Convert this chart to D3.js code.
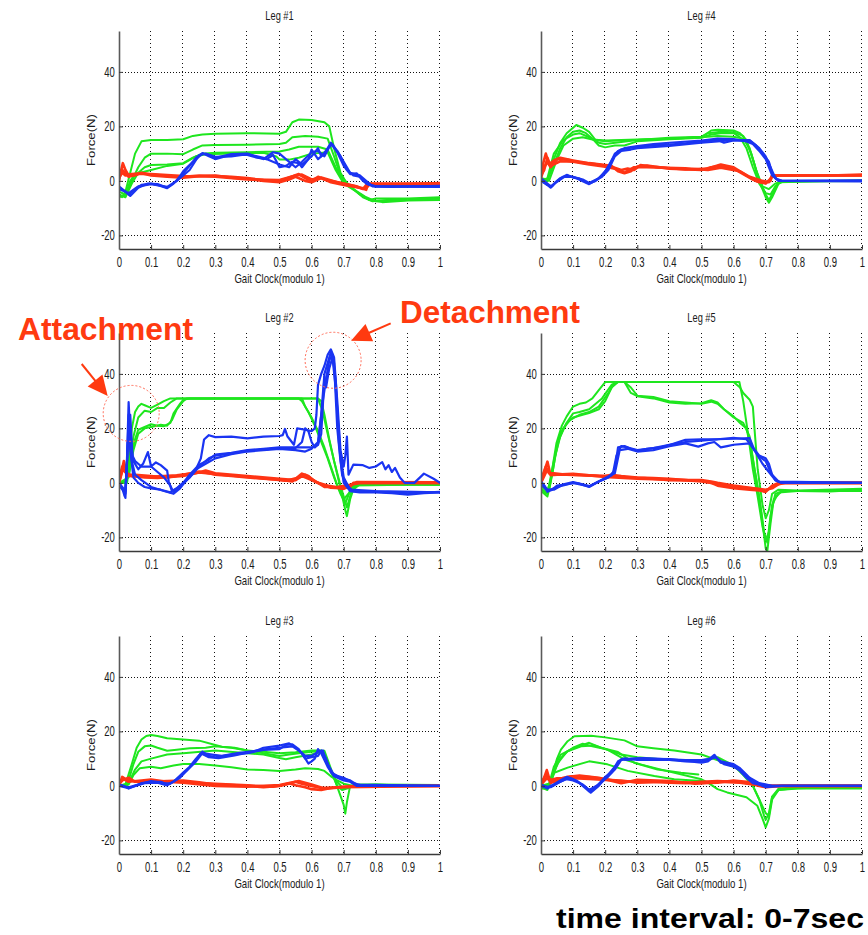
<!DOCTYPE html>
<html>
<head>
<meta charset="utf-8">
<script src="https://cdn.jsdelivr.net/npm/d3@7"></script>
<style>
  body { margin: 0; background: #fff; }
  svg { display: block; }
</style>
</head>
<body>
<script>
// Leg force traces (Gait Clock modulo 1 vs Force N).
// Each leg: several overlaid trials per colour, points are [x, y].

var leg1Green = [
  [[0,-5],[0.01,-6],[0.02,-4],[0.035,3],[0.05,10],[0.07,14.5],[0.1,15],[0.15,15],[0.2,15.3],[0.23,16.5],[0.26,17],[0.3,17.3],[0.4,17.5],[0.5,17.3],[0.52,18],[0.54,21.5],[0.56,22.5],[0.6,22.3],[0.64,21.5],[0.655,20],[0.67,12],[0.69,3],[0.71,-1],[0.75,-5],[0.78,-7],[0.8,-6.5],[0.9,-6.5],[1,-6]],
  [[0,-6],[0.02,-5],[0.04,0],[0.06,5],[0.08,8.5],[0.1,10],[0.15,10],[0.2,9.8],[0.23,11.5],[0.26,13],[0.3,13.2],[0.4,13.3],[0.5,13.5],[0.52,14],[0.54,16],[0.58,16.5],[0.62,16.2],[0.65,15.5],[0.67,9],[0.69,2],[0.72,-2],[0.76,-6],[0.79,-7.5],[0.85,-6.8],[1,-6.5]],
  [[0,-5],[0.02,-6],[0.04,-1],[0.06,3],[0.08,5],[0.1,5.8],[0.15,6],[0.2,6.5],[0.23,8.5],[0.26,10],[0.3,10.3],[0.4,10.5],[0.5,10.8],[0.53,11.5],[0.56,12.5],[0.62,12.5],[0.65,11.5],[0.675,5],[0.7,0],[0.73,-3],[0.77,-6],[0.8,-7.5],[0.9,-7],[1,-6.5]],
  [[0,-4],[0.02,-5],[0.035,0],[0.05,2.5],[0.1,4],[0.15,5.5],[0.2,6.3],[0.24,9],[0.27,9.8],[0.35,10],[0.45,10.3],[0.49,9],[0.5,7.8],[0.53,7.8],[0.56,8.5],[0.6,10],[0.65,10.5],[0.675,4],[0.7,-1],[0.74,-4],[0.78,-7],[0.82,-7.8],[0.9,-7.2],[1,-7]]
];
var leg1Red = [
  [[0,0],[0.005,3],[0.012,6.5],[0.02,4],[0.03,2],[0.05,2],[0.07,3],[0.1,2.3],[0.15,1.8],[0.2,1.5],[0.25,2],[0.3,1.8],[0.35,1.5],[0.4,1],[0.45,0.3],[0.5,0],[0.52,0.8],[0.56,2.5],[0.58,1],[0.6,0],[0.62,1.5],[0.64,0.5],[0.66,0],[0.7,-1],[0.74,-2],[0.77,-3.3],[0.775,-1],[0.8,-1],[0.9,-1.2],[1,-0.8]],
  [[0,1],[0.01,3],[0.02,2],[0.04,2.5],[0.07,2.8],[0.1,2],[0.15,1.5],[0.2,1.2],[0.25,1.7],[0.3,2],[0.35,1.2],[0.4,0.8],[0.45,0],[0.5,-0.5],[0.53,0.5],[0.55,1.5],[0.58,0],[0.6,-0.5],[0.63,1],[0.66,-0.5],[0.7,-1.5],[0.75,-2.5],[0.77,-2.8],[0.78,-1.2],[0.9,-1],[1,-1]],
  [[0,2],[0.01,4],[0.03,1.5],[0.06,2.5],[0.1,2.5],[0.2,1.8],[0.3,1.5],[0.4,0.5],[0.5,0.3],[0.55,2],[0.57,2.3],[0.6,0.5],[0.63,1.2],[0.68,-0.5],[0.73,-1.8],[0.76,-3],[0.77,-1.5],[1,-1.3]]
];
var leg1Blue = [
  [[0,-2],[0.015,-3.5],[0.03,-5],[0.05,-3],[0.07,-1.5],[0.1,-1],[0.12,-1.5],[0.15,-2.7],[0.17,-1],[0.2,2.8],[0.22,5.5],[0.24,8.5],[0.26,10.2],[0.28,9],[0.3,8],[0.33,9],[0.36,9.5],[0.4,9.5],[0.43,8.5],[0.46,8],[0.48,9.5],[0.5,5],[0.52,5.5],[0.54,7],[0.56,6.5],[0.57,5],[0.59,8],[0.6,11.5],[0.62,8],[0.64,10],[0.66,14],[0.68,10.5],[0.7,5.5],[0.72,2.5],[0.74,2.8],[0.76,0],[0.78,-1.5],[0.8,-2],[0.9,-2],[1,-2]],
  [[0,-3],[0.02,-4],[0.035,-5.5],[0.06,-2.5],[0.09,-1],[0.12,-1.2],[0.15,-2.5],[0.18,0],[0.2,3.5],[0.23,7],[0.26,10],[0.28,9.5],[0.3,8.5],[0.35,9.8],[0.4,10],[0.45,8],[0.48,10.5],[0.5,10],[0.52,8],[0.55,5],[0.57,7],[0.6,10.5],[0.62,11],[0.64,9],[0.66,13.5],[0.68,11],[0.7,7],[0.72,3],[0.75,2],[0.77,0],[0.79,-2],[0.85,-2.2],[1,-1.8]],
  [[0,-2.5],[0.03,-4.5],[0.06,-2],[0.1,-1.2],[0.15,-2.2],[0.18,0],[0.2,2],[0.22,4],[0.25,9.5],[0.27,10],[0.3,8.8],[0.35,9],[0.4,9.8],[0.45,8.5],[0.5,6],[0.53,5],[0.55,8],[0.57,6],[0.6,9],[0.62,12],[0.63,9],[0.655,12.5],[0.665,13.5],[0.69,9],[0.71,4],[0.73,2],[0.75,1.5],[0.77,-1],[0.8,-2],[1,-2.2]]
];

var leg4Green = [
  [[0,0],[0.02,0],[0.04,8],[0.06,14],[0.08,17.5],[0.1,19.5],[0.11,20.5],[0.13,19.5],[0.15,18],[0.17,15],[0.2,14.5],[0.25,15],[0.3,15.2],[0.4,15.5],[0.5,16],[0.53,18.5],[0.55,18.8],[0.6,18.5],[0.62,17.5],[0.64,15],[0.66,8],[0.68,0],[0.7,-6],[0.71,-8],[0.72,-6],[0.74,-1],[0.76,0],[1,0]],
  [[0,1],[0.02,0.5],[0.04,6],[0.06,12],[0.08,16],[0.1,18],[0.12,18.5],[0.14,17.5],[0.16,15.5],[0.18,13],[0.2,12.3],[0.23,13],[0.26,13],[0.3,14.5],[0.4,15.3],[0.5,15.8],[0.53,17],[0.56,17.5],[0.6,17.5],[0.62,16],[0.64,12],[0.66,5],[0.68,-1],[0.7,-4.5],[0.715,-5],[0.73,-2],[0.75,-0.2],[1,0]],
  [[0,0.5],[0.025,0],[0.05,8],[0.07,13],[0.1,15.5],[0.13,16],[0.16,15.2],[0.2,14.8],[0.3,15],[0.4,15.5],[0.5,16],[0.55,16.5],[0.6,16.2],[0.63,15.5],[0.65,12],[0.67,4],[0.69,-2],[0.71,-3],[0.73,-1],[0.75,0],[1,0]],
  [[0,0],[0.02,1],[0.04,10],[0.07,15],[0.1,17],[0.12,17.5],[0.15,16],[0.18,14],[0.2,13.5],[0.3,15],[0.4,15.8],[0.5,16.2],[0.52,17.5],[0.56,18],[0.6,17.8],[0.63,16.5],[0.655,10],[0.675,2],[0.7,-5],[0.71,-7],[0.725,-4],[0.74,-0.5],[1,0.2]]
];
var leg4Red = [
  [[0,2],[0.008,7],[0.015,10],[0.025,6],[0.04,7.5],[0.06,8.5],[0.1,7.5],[0.15,6.5],[0.2,5.8],[0.22,5.5],[0.24,3.5],[0.26,2.8],[0.28,3.5],[0.3,5.3],[0.33,5.6],[0.4,4.5],[0.5,4],[0.53,5],[0.56,5.5],[0.6,4.5],[0.63,2.5],[0.66,0.5],[0.68,-0.5],[0.7,-0.5],[0.715,0],[0.72,2],[0.8,2],[0.9,2],[1,2.3]],
  [[0,1],[0.01,5],[0.02,7],[0.03,5],[0.05,8],[0.08,7.8],[0.12,6.8],[0.18,6],[0.22,5.2],[0.25,4],[0.27,4.5],[0.29,4],[0.31,5.8],[0.35,5.2],[0.45,4.2],[0.52,4.5],[0.56,6],[0.6,5],[0.64,2],[0.67,0],[0.7,-1],[0.72,1.5],[0.74,2],[1,2]],
  [[0,2],[0.01,4],[0.02,8.5],[0.03,5.5],[0.06,7.2],[0.1,7],[0.15,6],[0.2,5.2],[0.23,4.5],[0.26,3],[0.29,5],[0.33,5],[0.45,4.6],[0.52,4],[0.56,4.8],[0.62,3.5],[0.65,1.5],[0.69,0],[0.71,-0.5],[0.72,2],[1,2]]
];
var leg4Blue = [
  [[0,0.5],[0.015,-1],[0.03,-2.5],[0.045,-0.5],[0.06,1],[0.08,2.2],[0.1,1.2],[0.12,0.8],[0.15,-1],[0.17,0],[0.19,2],[0.21,5],[0.23,10],[0.25,11.5],[0.27,12],[0.3,12.5],[0.35,13],[0.4,13.3],[0.45,13.8],[0.5,14.5],[0.55,15],[0.57,14],[0.6,14.8],[0.65,14.8],[0.67,13],[0.69,10],[0.71,7],[0.72,3],[0.735,0.5],[0.75,0],[0.9,0],[1,0]],
  [[0,0],[0.02,-1.5],[0.035,-2],[0.05,0],[0.07,1.5],[0.1,1.5],[0.13,0.5],[0.15,-0.8],[0.18,1],[0.2,3.5],[0.22,7.5],[0.24,11],[0.26,12],[0.3,12.8],[0.35,13.5],[0.4,14],[0.5,14.8],[0.55,15.5],[0.6,15.3],[0.64,14.5],[0.66,13.5],[0.68,11],[0.7,8],[0.72,2],[0.74,0],[1,0.2]],
  [[0,1],[0.03,-2],[0.06,0.5],[0.08,2],[0.11,1],[0.15,-1.2],[0.19,1.5],[0.21,4],[0.23,9],[0.25,11],[0.28,11.5],[0.3,12],[0.4,12.8],[0.5,14],[0.55,14.5],[0.6,15],[0.65,15],[0.68,12],[0.7,9],[0.715,5],[0.73,1],[0.75,0],[1,-0.2]]
];

var leg2Green = [
  [[0,0],[0.02,0],[0.03,8],[0.04,20],[0.05,26],[0.06,28],[0.07,29],[0.08,28.5],[0.1,27.5],[0.12,28.7],[0.14,30],[0.16,31],[0.3,31],[0.5,31],[0.56,31],[0.57,30],[0.59,26],[0.61,21],[0.63,15],[0.65,9],[0.67,2],[0.69,-4],[0.705,-7.5],[0.72,-3],[0.735,-0.5],[0.8,-0.5],[1,-0.8]],
  [[0,0],[0.02,0.5],[0.03,6],[0.045,17],[0.06,24],[0.08,26.5],[0.1,26],[0.12,27.5],[0.14,27.5],[0.16,29.5],[0.18,31],[0.4,31],[0.62,31],[0.63,30],[0.64,25],[0.655,16],[0.67,8],[0.69,-2],[0.705,-10],[0.71,-12.2],[0.72,-6],[0.73,-2.4],[0.75,-0.6],[1,-0.6]],
  [[0,0],[0.025,0],[0.035,8],[0.05,16],[0.06,19.5],[0.08,20.5],[0.1,21.5],[0.12,21],[0.14,20.8],[0.16,22],[0.17,25.5],[0.19,29],[0.2,30.5],[0.22,31],[0.5,31],[0.62,31],[0.635,26],[0.65,18],[0.67,8],[0.69,-1],[0.71,-9],[0.725,-3],[0.74,-0.5],[1,-0.5]],
  [[0,0],[0.03,2],[0.045,12],[0.06,18],[0.08,20],[0.1,20.5],[0.13,21.3],[0.15,21],[0.165,23],[0.18,27],[0.2,30],[0.21,31],[0.57,31],[0.58,28],[0.6,24],[0.62,19],[0.64,13],[0.66,6],[0.68,-1],[0.7,-6],[0.715,-4],[0.73,-1],[1,-0.5]]
];
var leg2Red = [
  [[0,0],[0.008,4],[0.015,8],[0.025,3],[0.05,3],[0.1,2.5],[0.15,2],[0.2,3],[0.25,4.2],[0.28,3.5],[0.3,3],[0.35,2.5],[0.4,2],[0.45,1.5],[0.5,1.2],[0.54,0.5],[0.57,3.4],[0.59,2.5],[0.61,0.5],[0.63,-0.5],[0.66,-1.8],[0.69,-2],[0.72,-1.5],[0.73,0],[0.8,0],[1,0]],
  [[0,1],[0.01,6],[0.02,4],[0.04,2.5],[0.08,2],[0.12,1.8],[0.16,2.2],[0.2,2.5],[0.24,3.5],[0.27,4.5],[0.3,3.5],[0.4,2.5],[0.5,1.5],[0.55,1],[0.57,2.5],[0.6,1],[0.62,0],[0.65,-1],[0.7,-2.2],[0.72,-1],[0.74,0.3],[1,0.2]],
  [[0,0],[0.012,5],[0.03,2.5],[0.1,2.2],[0.18,2.8],[0.25,3.8],[0.32,3],[0.42,2],[0.52,0.8],[0.56,2],[0.58,3],[0.6,1.5],[0.64,-1.5],[0.68,-1.5],[0.73,-0.5],[0.75,0],[1,0]]
];
var leg2Blue = [
  [[0,0],[0.01,-2],[0.018,-5],[0.024,5],[0.03,29.6],[0.036,15],[0.045,8],[0.06,5],[0.075,7],[0.09,11.3],[0.1,6],[0.115,7.5],[0.13,6.5],[0.15,4.5],[0.155,0.5],[0.165,-3],[0.18,-2],[0.2,0],[0.22,2],[0.24,5],[0.255,9],[0.265,15.9],[0.28,17.5],[0.3,16.8],[0.35,17],[0.4,16.3],[0.45,17],[0.5,17.2],[0.51,17.5],[0.517,19.8],[0.525,17],[0.545,14],[0.555,20],[0.58,19.5],[0.6,19],[0.61,20],[0.615,25],[0.62,36],[0.63,40],[0.64,43],[0.65,47],[0.66,49],[0.67,46],[0.68,30],[0.69,12],[0.7,6],[0.705,10],[0.71,17],[0.715,3],[0.73,6.7],[0.76,6.5],[0.78,5.5],[0.8,6],[0.82,7.6],[0.83,5],[0.84,6.5],[0.85,4],[0.86,5.5],[0.875,2],[0.89,0],[0.92,0],[0.95,3.4],[0.98,1.5],[1,0]],
  [[0,-1],[0.015,-3],[0.02,-5.5],[0.026,10],[0.03,25],[0.035,12],[0.045,2],[0.06,0],[0.08,-1.5],[0.1,-2],[0.13,-2.5],[0.16,-3.5],[0.18,-2],[0.2,0],[0.22,3],[0.25,6.7],[0.28,8.5],[0.3,10.4],[0.35,11],[0.4,12],[0.45,12.5],[0.5,13],[0.55,13],[0.6,13],[0.62,14],[0.63,25],[0.64,40],[0.65,44],[0.66,48],[0.67,44],[0.68,20],[0.69,8],[0.7,0],[0.72,-3],[0.75,-3.5],[0.8,-3.5],[0.85,-3.8],[0.9,-4.3],[0.95,-3.8],[1,-3.5]],
  [[0,0],[0.02,-4],[0.028,15],[0.032,22],[0.04,8],[0.05,3],[0.07,1],[0.1,-1.5],[0.14,-3],[0.17,-4],[0.19,-2],[0.21,1],[0.24,5],[0.27,7],[0.3,9],[0.35,10.5],[0.4,11.5],[0.45,12],[0.5,12.5],[0.55,12],[0.58,11.5],[0.6,12.5],[0.62,15],[0.635,30],[0.645,38],[0.655,45],[0.665,47],[0.675,38],[0.685,15],[0.695,3],[0.71,-1],[0.73,-3],[0.8,-3.2],[0.9,-3.8],[1,-3.3]],
  [[0,0],[0.02,-3],[0.03,20],[0.035,25],[0.042,10],[0.05,8],[0.07,6],[0.1,6],[0.12,4],[0.14,2],[0.16,-1],[0.17,-3.5],[0.19,-1.5],[0.22,2],[0.25,6],[0.28,9],[0.3,10],[0.35,10.8],[0.4,11.8],[0.45,12.2],[0.5,12.8],[0.55,12.8],[0.57,15],[0.58,20],[0.59,19],[0.6,15],[0.61,13],[0.62,14],[0.63,18],[0.64,39],[0.645,35],[0.655,42],[0.665,46],[0.675,35],[0.69,10],[0.7,2],[0.72,-2.5],[0.8,-3],[1,-3.5]]
];

var leg5Green = [
  [[0,-2],[0.015,-4],[0.025,-3],[0.035,5],[0.048,14.5],[0.065,21],[0.08,24.4],[0.1,28],[0.12,29],[0.14,29.5],[0.16,31],[0.18,34],[0.2,37],[0.26,37],[0.28,33],[0.3,31.8],[0.35,31],[0.4,29.5],[0.45,29],[0.5,29.2],[0.53,30.3],[0.55,29.5],[0.57,27],[0.6,24.4],[0.62,22],[0.64,20],[0.655,12],[0.67,2],[0.685,-10],[0.7,-24],[0.705,-25],[0.715,-15],[0.725,-6],[0.75,-3],[0.8,-3],[0.9,-3.2],[1,-2.5]],
  [[0,-3],[0.02,-5],[0.03,0],[0.045,10],[0.06,18],[0.08,22],[0.1,24],[0.13,25],[0.15,25.6],[0.18,27],[0.2,30],[0.22,35],[0.24,37],[0.26,37],[0.28,35],[0.3,32],[0.35,31.5],[0.4,30],[0.45,29.5],[0.5,29],[0.53,29.8],[0.55,29],[0.58,26],[0.6,24],[0.63,22],[0.65,17],[0.665,5],[0.68,-5],[0.695,-18],[0.705,-22],[0.715,-12],[0.73,-4],[0.76,-3],[1,-3]],
  [[0,-1],[0.02,-3],[0.035,3],[0.05,14],[0.07,20],[0.09,23],[0.12,25],[0.15,26],[0.18,28],[0.21,33],[0.23,37],[0.6,37],[0.62,35],[0.63,33],[0.65,30.5],[0.66,28],[0.665,20],[0.675,5],[0.69,-8],[0.7,-13],[0.71,-10],[0.72,-4],[0.74,-2.5],[0.8,-2.8],[1,-2.2]],
  [[0,-2],[0.02,-4],[0.04,8],[0.06,17],[0.08,22],[0.1,25.5],[0.12,26],[0.15,27],[0.19,31],[0.22,36],[0.24,37],[0.5,37],[0.618,37],[0.63,30],[0.645,18],[0.66,5],[0.675,-5],[0.69,-16],[0.7,-21],[0.71,-18],[0.72,-8],[0.74,-3.5],[0.8,-3],[1,-2.8]]
];
var leg5Red = [
  [[0,0],[0.01,4],[0.02,7.8],[0.03,2.8],[0.05,3],[0.1,3],[0.15,2.8],[0.2,2.5],[0.22,3],[0.25,2.5],[0.3,2],[0.35,1.8],[0.4,1.5],[0.45,1],[0.5,0.5],[0.53,0],[0.55,-1],[0.6,-2],[0.65,-2.5],[0.68,-2.8],[0.7,-3.3],[0.72,-1],[0.74,0],[0.8,0],[1,0]],
  [[0,1],[0.015,6],[0.025,3.5],[0.04,3.5],[0.08,3],[0.12,2.8],[0.18,2.5],[0.22,2.5],[0.26,2],[0.32,1.8],[0.4,1],[0.5,1],[0.53,0.5],[0.55,0],[0.6,-1],[0.65,-1.8],[0.7,-2.5],[0.72,-2],[0.74,-0.5],[0.76,0],[1,0]],
  [[0,0],[0.02,5],[0.03,3],[0.1,3.3],[0.2,2.2],[0.3,1.5],[0.4,1.2],[0.5,0.8],[0.55,-0.5],[0.6,-1.5],[0.66,-2],[0.7,-2.8],[0.73,-1],[0.75,0],[1,0]]
];
var leg5Blue = [
  [[0,0],[0.01,-1],[0.02,-3.3],[0.035,-2.5],[0.05,-1],[0.08,-0.5],[0.1,0],[0.12,-0.3],[0.15,-1.5],[0.18,0.5],[0.2,1.5],[0.22,2.8],[0.23,5],[0.24,13],[0.26,13.5],[0.28,12.5],[0.3,11.8],[0.33,12.5],[0.37,13],[0.4,13.9],[0.45,15.8],[0.5,16],[0.55,16],[0.6,16.2],[0.65,16.4],[0.665,12],[0.68,9.6],[0.7,8],[0.715,4],[0.73,1],[0.75,0],[0.85,0],[1,0]],
  [[0,0.5],[0.02,-2.5],[0.04,-2.5],[0.07,-0.5],[0.1,0.3],[0.13,-0.5],[0.15,-1.2],[0.18,0.5],[0.21,2],[0.225,4],[0.235,10],[0.25,13.5],[0.27,13],[0.3,12],[0.35,12.8],[0.4,14],[0.45,15],[0.5,15.5],[0.55,16],[0.6,16.5],[0.64,16],[0.66,13],[0.68,10],[0.7,9],[0.71,7],[0.72,3],[0.74,0.5],[1,0]],
  [[0,-0.5],[0.02,-3],[0.05,-1.5],[0.1,0],[0.15,-1.3],[0.2,1.8],[0.23,3.5],[0.245,12],[0.27,12.5],[0.3,11.5],[0.35,12],[0.4,13.5],[0.45,14.5],[0.49,13.3],[0.52,14.5],[0.54,15],[0.56,13],[0.58,13.5],[0.6,14],[0.65,14.5],[0.67,11],[0.69,7],[0.71,4],[0.73,1],[0.75,0],[1,0]]
];

var leg3Green = [
  [[0,0],[0.02,0.5],[0.04,8],[0.055,14],[0.07,17],[0.085,18.3],[0.1,18.7],[0.12,18.3],[0.15,17.5],[0.2,17],[0.25,16.6],[0.3,15],[0.32,14.4],[0.36,14],[0.4,13],[0.45,12],[0.5,11],[0.53,11.5],[0.56,12],[0.6,12.5],[0.64,12.9],[0.655,8],[0.67,3],[0.685,-2],[0.7,-7],[0.705,-10.2],[0.71,-6],[0.72,0],[0.75,0.5],[0.8,0.5],[1,0.3]],
  [[0,0],[0.025,0],[0.045,8],[0.06,12.5],[0.08,14.5],[0.1,14.8],[0.12,14],[0.15,12.9],[0.18,13.3],[0.22,13.8],[0.27,14],[0.3,14.5],[0.35,14],[0.4,13],[0.45,12.5],[0.5,12],[0.55,12.3],[0.6,13],[0.63,13],[0.645,10],[0.66,5],[0.675,2],[0.7,-1],[0.72,0],[0.8,0.5],[0.9,0],[1,0.3]],
  [[0,0],[0.03,0.5],[0.045,4],[0.065,6.5],[0.1,7],[0.13,6.5],[0.17,7.5],[0.2,8],[0.25,8],[0.3,7.5],[0.35,6.8],[0.4,6],[0.45,5.8],[0.5,5.5],[0.55,6],[0.58,6.5],[0.62,6.2],[0.64,5.5],[0.66,3.5],[0.68,2],[0.7,0.8],[0.73,0],[1,0]],
  [[0,0],[0.03,1],[0.05,6],[0.07,9],[0.1,10],[0.15,11.5],[0.2,12],[0.3,13],[0.4,12],[0.45,11.5],[0.5,10.2],[0.52,9.8],[0.55,10.5],[0.6,11.5],[0.63,12.5],[0.65,9],[0.665,4],[0.68,0],[0.695,-1.5],[0.71,-1],[0.73,0],[1,0]]
];
var leg3Red = [
  [[0,0],[0.01,3.3],[0.02,2.5],[0.035,2],[0.06,1.5],[0.1,1.5],[0.15,1.8],[0.2,2],[0.25,1.3],[0.3,0.5],[0.35,0.3],[0.4,0],[0.45,-0.5],[0.5,0],[0.53,1],[0.55,0.2],[0.58,-0.5],[0.6,-1.2],[0.63,-1.5],[0.66,-0.8],[0.7,-0.3],[0.75,0],[0.8,0],[1,0]],
  [[0,1],[0.015,2.5],[0.03,1.5],[0.07,2],[0.1,2.3],[0.15,1.5],[0.2,1.5],[0.25,1],[0.3,0.8],[0.4,0.2],[0.48,-0.3],[0.52,0.5],[0.55,1.5],[0.57,0.8],[0.6,0],[0.63,-0.8],[0.68,-0.5],[0.75,0],[1,0]],
  [[0,0.5],[0.01,2],[0.03,3],[0.05,1.5],[0.1,1.8],[0.2,1.2],[0.3,0],[0.4,-0.3],[0.5,0.3],[0.56,1.8],[0.6,0.5],[0.64,-1],[0.7,-0.5],[1,0]]
];
var leg3Blue = [
  [[0,0.5],[0.015,0],[0.03,-1],[0.05,0],[0.07,1],[0.1,1.5],[0.13,1.5],[0.15,0.5],[0.17,1.5],[0.2,4.9],[0.22,7],[0.24,10],[0.26,12.6],[0.28,11],[0.3,10.5],[0.35,11.5],[0.4,12],[0.42,12.5],[0.45,14],[0.5,14.8],[0.53,15.6],[0.55,14],[0.57,12],[0.59,8.2],[0.6,9],[0.61,10],[0.62,13.5],[0.63,12],[0.65,7],[0.67,3.5],[0.7,2],[0.72,1.5],[0.74,0],[0.8,0],[1,0]],
  [[0,0.3],[0.03,-0.5],[0.06,0.5],[0.1,1.8],[0.14,1],[0.16,0.8],[0.18,2.5],[0.21,5.5],[0.24,9],[0.26,12],[0.29,11.5],[0.32,11],[0.37,12],[0.42,12.8],[0.46,13.5],[0.5,14],[0.54,14.5],[0.56,13],[0.58,11],[0.6,11],[0.62,12.5],[0.635,13],[0.65,8],[0.67,4],[0.7,3],[0.73,1],[0.76,0],[1,0]],
  [[0,0],[0.03,-0.8],[0.08,1],[0.12,1.2],[0.15,0.2],[0.19,3],[0.23,8],[0.255,12],[0.28,10.5],[0.31,10.2],[0.36,11.2],[0.4,12.2],[0.45,13.2],[0.5,13.5],[0.52,15],[0.54,15.2],[0.56,13.5],[0.58,10],[0.6,10.5],[0.62,11],[0.63,13],[0.645,10],[0.66,5],[0.69,3],[0.72,2],[0.74,0.5],[1,0]]
];

var leg6Green = [
  [[0,-1],[0.02,-1],[0.03,2],[0.05,10],[0.062,13.3],[0.083,16.4],[0.104,18.2],[0.156,18.4],[0.2,17.8],[0.26,16.7],[0.3,14.5],[0.35,13.8],[0.415,13],[0.5,11.5],[0.56,9],[0.6,7],[0.62,6],[0.64,3.5],[0.66,0],[0.68,-5],[0.695,-11],[0.7,-12.5],[0.71,-10],[0.72,-4],[0.74,-1.5],[0.78,-1],[0.9,-0.5],[1,-0.8]],
  [[0,0],[0.025,0.5],[0.04,7],[0.062,11.5],[0.104,14],[0.13,15],[0.15,15.8],[0.187,14],[0.24,12.4],[0.29,8.5],[0.363,6],[0.436,4.8],[0.49,4.2]],
  [[0,-0.5],[0.02,-1.5],[0.04,5],[0.06,10],[0.083,12.7],[0.125,14.5],[0.166,14.8],[0.207,13.3],[0.26,9.7],[0.31,7.9],[0.39,5.5],[0.5,2.4],[0.52,1.2],[0.55,-1.2],[0.58,-2.4],[0.64,-4.2],[0.674,-7.3],[0.69,-12],[0.7,-15.2],[0.71,-12],[0.72,-5],[0.74,-1.5],[0.8,-1],[1,-1]],
  [[0,0],[0.025,0],[0.041,4.8],[0.083,6.7],[0.15,9],[0.207,7.9],[0.27,5.5],[0.353,3.6],[0.415,2.4],[0.5,1.8]],
  [[0,0],[0.03,1],[0.05,8],[0.08,12.5],[0.1,14],[0.13,15.5],[0.16,14.5],[0.2,13.5],[0.25,11.5],[0.3,10.5],[0.4,9.5],[0.5,9.3],[0.55,10.5],[0.6,7.5],[0.63,4],[0.66,0],[0.68,-5],[0.7,-10],[0.71,-11],[0.72,-4],[0.74,-1],[0.8,-0.5],[1,-0.5]]
];
var leg6Red = [
  [[0,0],[0.01,3],[0.018,5.8],[0.03,1],[0.05,2],[0.07,3],[0.1,3.5],[0.15,3.2],[0.2,2.5],[0.25,1.5],[0.3,1.8],[0.35,1.5],[0.4,1.2],[0.45,1],[0.5,1.5],[0.55,1.8],[0.6,1.5],[0.65,1],[0.68,0],[0.7,-0.5],[0.75,0],[1,0]],
  [[0,1],[0.015,4],[0.025,2],[0.05,2.8],[0.1,2.8],[0.15,2.5],[0.2,2.2],[0.25,2],[0.3,1.2],[0.4,1.5],[0.5,1],[0.55,1.2],[0.6,2],[0.64,1.5],[0.68,0.5],[0.72,0],[1,0]],
  [[0,0.5],[0.02,3],[0.04,1.5],[0.08,3.2],[0.12,3.8],[0.18,3],[0.25,1],[0.3,2.2],[0.4,1.8],[0.48,0.8],[0.55,1.5],[0.62,1.2],[0.66,0.5],[0.7,0],[1,0]]
];
var leg6Blue = [
  [[0,0],[0.02,-1],[0.04,0.5],[0.06,2],[0.08,3.3],[0.1,2.5],[0.12,1],[0.13,0],[0.15,-2],[0.17,-0.5],[0.19,2],[0.2,3.3],[0.22,5],[0.24,9],[0.26,10.1],[0.3,9.5],[0.35,9.5],[0.4,9.5],[0.45,9],[0.5,9],[0.52,9.5],[0.54,11.4],[0.56,8.5],[0.58,8],[0.6,7.7],[0.62,5.5],[0.64,3],[0.66,1],[0.7,0],[0.8,0],[1,0]],
  [[0,0.5],[0.02,-0.5],[0.05,1],[0.08,2.5],[0.1,2],[0.13,0.5],[0.15,-1.5],[0.18,0.5],[0.21,3.5],[0.23,6],[0.25,9.5],[0.28,10],[0.32,10.2],[0.38,9.8],[0.45,9.5],[0.5,9.5],[0.53,10],[0.545,10.5],[0.56,9],[0.6,8],[0.62,6.5],[0.65,3],[0.68,1],[0.72,0],[1,0]],
  [[0,0],[0.03,-0.5],[0.06,1.5],[0.085,3],[0.11,2],[0.14,-0.5],[0.155,-2.5],[0.18,0],[0.2,2.8],[0.23,7],[0.25,9.8],[0.27,9.5],[0.3,10],[0.4,9.8],[0.5,8.5],[0.52,9],[0.54,10.8],[0.57,8],[0.6,7],[0.63,5],[0.65,2.5],[0.68,0.5],[0.7,-0.5],[0.75,0],[1,0]]
];

var X_TICKS = [0, 0.1, 0.2, 0.3, 0.4, 0.5, 0.6, 0.7, 0.8, 0.9, 1];
var X_TICK_LABELS = ["0", "0.1", "0.2", "0.3", "0.4", "0.5", "0.6", "0.7", "0.8", "0.9", "1"];
var Y_TICKS = [-20, 0, 20, 40];
var Y_TICK_LABELS = ["-20", "0", "20", "40"];
var Y_DOMAIN = [-25, 55];

var FONT = "'Liberation Sans', Arial, Helvetica, sans-serif";
var COL_GREEN = "#1ee61e", COL_RED = "#ff3414", COL_BLUE = "#1a34f2";
var ANNOT_RED = "#ff3a10";

var W = 868, H = 935;
var COLS = [119, 541];
var ROWS = [31, 333, 636];
var PW = 321, PH = 218;

var panels = [
  { id: 1, title: "Leg #1", col: 0, row: 0, green: leg1Green, red: leg1Red, blue: leg1Blue },
  { id: 4, title: "Leg #4", col: 1, row: 0, green: leg4Green, red: leg4Red, blue: leg4Blue },
  { id: 2, title: "Leg #2", col: 0, row: 1, green: leg2Green, red: leg2Red, blue: leg2Blue },
  { id: 5, title: "Leg #5", col: 1, row: 1, green: leg5Green, red: leg5Red, blue: leg5Blue },
  { id: 3, title: "Leg #3", col: 0, row: 2, green: leg3Green, red: leg3Red, blue: leg3Blue },
  { id: 6, title: "Leg #6", col: 1, row: 2, green: leg6Green, red: leg6Red, blue: leg6Blue }
];

var x = d3.scaleLinear().domain([0, 1]).range([0, PW]);
var y = d3.scaleLinear().domain(Y_DOMAIN).range([PH, 0]);
var line = d3.line().x(function (d) { return x(d[0]); }).y(function (d) { return y(d[1]); });

var svg = d3.select("body").append("svg").attr("width", W).attr("height", H)
  .style("font-family", FONT);
svg.append("rect").attr("width", W).attr("height", H).attr("fill", "#fff");

var scales = {};

panels.forEach(function (p) {
  var g = svg.append("g").attr("transform", "translate(" + COLS[p.col] + "," + ROWS[p.row] + ")");
  var clipId = "clip" + p.id;
  g.append("clipPath").attr("id", clipId).append("rect").attr("width", PW).attr("height", PH);

  // dotted grid
  g.append("g").selectAll("line").data(X_TICKS.slice(1)).enter().append("line")
    .attr("x1", function (d) { return Math.round(x(d)) - 0.5; })
    .attr("x2", function (d) { return Math.round(x(d)) - 0.5; })
    .attr("y1", 0).attr("y2", PH)
    .attr("stroke", "#111").attr("stroke-width", 1).attr("stroke-dasharray", "1,3");
  g.append("g").selectAll("line").data(Y_TICKS).enter().append("line")
    .attr("x1", 0).attr("x2", PW)
    .attr("y1", function (d) { return Math.round(y(d)) + 0.5; })
    .attr("y2", function (d) { return Math.round(y(d)) + 0.5; })
    .attr("stroke", "#111").attr("stroke-width", 1).attr("stroke-dasharray", "1,2");

  // traces: green, red, blue
  var traces = g.append("g").attr("clip-path", "url(#" + clipId + ")");
  [[p.green, COL_GREEN, 2], [p.red, COL_RED, 2.6], [p.blue, COL_BLUE, 2.2]].forEach(function (s) {
    traces.append("g").selectAll("path").data(s[0]).enter().append("path")
      .attr("d", line)
      .attr("fill", "none")
      .attr("stroke", s[1])
      .attr("stroke-width", s[2])
      .attr("stroke-linejoin", "round")
      .attr("stroke-linecap", "round");
  });

  // axes
  var xa = g.append("g").attr("transform", "translate(0," + PH + ")")
    .call(d3.axisBottom(x).tickValues(X_TICKS).tickSize(-4).tickSizeOuter(0).tickPadding(8)
      .tickFormat(function (d, i) { return X_TICK_LABELS[i]; }));
  xa.select(".domain").attr("stroke", "#3a3a3a").attr("stroke-width", 1.6);
  xa.selectAll(".tick line").attr("stroke", "#3a3a3a");
  xa.selectAll(".tick text").attr("font-family", FONT).attr("font-size", 14).attr("fill", "#1a1a1a")
    .attr("transform", "scale(0.68,1)");

  var ya = g.append("g")
    .call(d3.axisLeft(y).tickValues(Y_TICKS).tickSize(-4).tickSizeOuter(0).tickPadding(6)
      .tickFormat(function (d, i) { return Y_TICK_LABELS[i]; }));
  ya.select(".domain").attr("stroke", "#5a5a5a").attr("stroke-width", 1.6);
  ya.selectAll(".tick line").attr("stroke", "#3a3a3a");
  ya.selectAll(".tick text").attr("font-family", FONT).attr("font-size", 14).attr("fill", "#1a1a1a")
    .attr("transform", "scale(0.68,1)");

  // title
  g.append("text").attr("transform", "translate(" + (PW / 2) + ",-11) scale(0.74,1)")
    .attr("text-anchor", "middle").attr("font-size", 12.5).attr("fill", "#1a1a1a").text(p.title);
  // x label
  g.append("text").attr("transform", "translate(" + (PW / 2) + "," + (PH + 34) + ") scale(0.74,1)")
    .attr("text-anchor", "middle").attr("font-size", 13).attr("fill", "#1a1a1a").text("Gait Clock(modulo 1)");
  // y label
  g.append("text").attr("transform", "translate(-24," + (PH / 2) + ") rotate(-90) scale(1.2,1)")
    .attr("text-anchor", "middle").attr("font-size", 11).attr("fill", "#1a1a1a").text("Force(N)");

  scales[p.id] = { ox: COLS[p.col], oy: ROWS[p.row] };
});

// annotations on Leg #2
var a2 = scales[2];
var ann = svg.append("g");
[[0.038, 25.5], [0.667, 45]].forEach(function (c) {
  ann.append("circle")
    .attr("cx", a2.ox + x(c[0])).attr("cy", a2.oy + y(c[1])).attr("r", 28)
    .attr("fill", "none").attr("stroke", "#ff6a55").attr("stroke-width", 1)
    .attr("stroke-dasharray", "2,2");
});

function arrow(x0, y0, x1, y1) {
  var dx = x1 - x0, dy = y1 - y0, len = Math.sqrt(dx * dx + dy * dy);
  var ux = dx / len, uy = dy / len, hl = 20, hw = 9.5;
  var bx = x1 - ux * hl, by = y1 - uy * hl;
  ann.append("line").attr("x1", x0).attr("y1", y0).attr("x2", bx + ux * 2).attr("y2", by + uy * 2)
    .attr("stroke", ANNOT_RED).attr("stroke-width", 2);
  ann.append("path")
    .attr("d", "M" + x1 + "," + y1 + "L" + (bx - uy * hw) + "," + (by + ux * hw) + "L" + (bx + uy * hw) + "," + (by - ux * hw) + "Z")
    .attr("fill", ANNOT_RED);
}
arrow(81.7, 364, 107.7, 396);
arrow(390.7, 323.3, 351, 340.7);

ann.append("text").attr("x", 18).attr("y", 340).attr("font-size", 30.5).attr("font-weight", "bold")
  .attr("fill", ANNOT_RED).attr("textLength", 175).attr("lengthAdjust", "spacingAndGlyphs").text("Attachment");
ann.append("text").attr("x", 400).attr("y", 323).attr("font-size", 30.5).attr("font-weight", "bold")
  .attr("fill", ANNOT_RED).attr("textLength", 180).attr("lengthAdjust", "spacingAndGlyphs").text("Detachment");
ann.append("text").attr("x", 556).attr("y", 928).attr("font-size", 28).attr("font-weight", "bold")
  .attr("fill", "#000").attr("textLength", 308).attr("lengthAdjust", "spacingAndGlyphs").text("time interval: 0-7sec");
</script>
</body>
</html>
